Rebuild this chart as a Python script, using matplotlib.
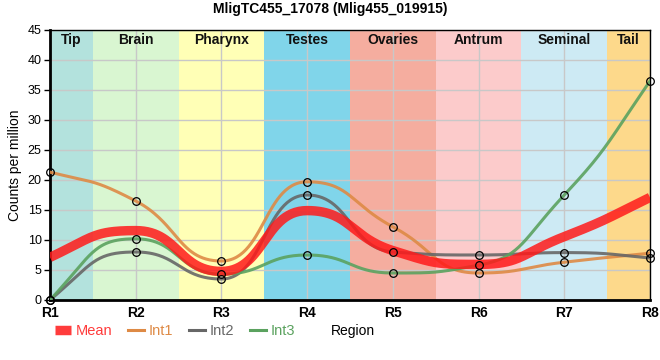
import numpy as np
import matplotlib
matplotlib.use("Agg")
import matplotlib.pyplot as plt
from matplotlib.lines import Line2D

plt.rcParams["font.family"] = ["Liberation Sans", "DejaVu Sans"]

# ── Data ──────────────────────────────────────────────────────────────────────
regions = ["R1", "R2", "R3", "R4", "R5", "R6", "R7", "R8"]
tissues = ["Tip", "Brain", "Pharynx", "Testes", "Ovaries", "Antrum", "Seminal", "Tail"]
tissue_colors = ["#b3e2dd", "#d9f6d1", "#ffffb6", "#80d5ea", "#f5ad9f",
                 "#fccbcb", "#cdeaf4", "#fdd98b"]
int1 = [21.3, 16.5, 6.5, 19.7, 12.2, 4.5, 6.3, 7.8]
int2 = [0.0, 8.0, 3.5, 17.5, 8.0, 7.5, 7.9, 7.0]
int3 = [0.0, 10.2, 4.3, 7.5, 4.5, 5.8, 17.5, 36.5]
mean = np.mean([int1, int2, int3], axis=0)


def smooth(x, y, n=60):
    # monotone tangents, bezier handles at half the interval
    x = np.asarray(x, float)
    y = np.asarray(y, float)
    h = np.diff(x)
    s = np.diff(y) / h
    t = np.zeros_like(y)
    for i in range(1, len(y) - 1):
        p = (s[i - 1] * h[i] + s[i] * h[i - 1]) / (h[i - 1] + h[i])
        t[i] = (np.sign(s[i - 1]) + np.sign(s[i])) * min(abs(s[i - 1]), abs(s[i]), 0.5 * abs(p))
    t[0] = (3 * s[0] - t[1]) / 2
    t[-1] = (3 * s[-1] - t[-2]) / 2
    xs, ys = [], []
    u = np.linspace(0, 1, n)
    b0, b1, b2, b3 = (1 - u)**3, 3 * (1 - u)**2 * u, 3 * (1 - u) * u**2, u**3
    for i in range(len(x) - 1):
        d = 0.5 * h[i]
        px = [x[i], x[i] + d, x[i + 1] - d, x[i + 1]]
        py = [y[i], y[i] + d * t[i], y[i + 1] - d * t[i + 1], y[i + 1]]
        xs.append(b0 * px[0] + b1 * px[1] + b2 * px[2] + b3 * px[3])
        ys.append(b0 * py[0] + b1 * py[1] + b2 * py[2] + b3 * py[3])
    return np.concatenate(xs), np.concatenate(ys)


fig = plt.figure(figsize=(6.6, 3.6), dpi=100)
ax = fig.add_axes([50 / 660, 60 / 360, 600 / 660, 270 / 360])

xpos = np.arange(len(regions))

# ── Tissue bands ──────────────────────────────────────────────────────────────
for i, (name, col) in enumerate(zip(tissues, tissue_colors)):
    lo = max(i - 0.5, 0)
    hi = min(i + 0.5, len(regions) - 1)
    ax.axvspan(lo, hi, color=col, zorder=0, lw=0)
    ax.text((lo + hi) / 2, 43.3, name, ha="center", va="center",
            fontsize=10, fontweight="bold", color="#111111", zorder=5)

ax.grid(True, color="#c8c8c8", linewidth=1)
for gl in ax.get_xgridlines() + ax.get_ygridlines():
    gl.set_zorder(1)

# ── Lines ─────────────────────────────────────────────────────────────────────
series = [(int1, "#de8a45"), (int2, "#676767"), (int3, "#5ba25f")]
for vals, col in series:
    xs, ys = smooth(xpos, vals)
    ax.plot(xs, ys, color=col, linewidth=2.2, alpha=0.9, zorder=3)

xm, ym = smooth(xpos, mean)
ax.plot(xm, ym, color="#ff1a1a", linewidth=6.8, alpha=0.85, zorder=4,
        solid_capstyle="butt")

for vals, col in series:
    ax.plot(xpos, vals, linestyle="none", marker="o", markersize=5.5,
            markerfacecolor="none", markeredgecolor="black",
            markeredgewidth=0.9, zorder=6, clip_on=False)

ax.set_xlim(0, len(regions) - 1)
ax.set_ylim(0, 45)
ax.set_xticks(xpos)
ax.set_xticklabels(regions, fontsize=10, fontweight="bold")
ax.set_yticks(np.arange(0, 46, 5))
ax.tick_params(axis="y", labelsize=9, length=4, width=1, pad=2)
ax.tick_params(axis="x", length=0, pad=4)
for side in ["left", "bottom"]:
    ax.spines[side].set_linewidth(2)
for side in ["top", "right"]:
    ax.spines[side].set_linewidth(1)

ax.set_ylabel("Counts per million", fontsize=10, labelpad=4)
fig.suptitle("MligTC455_17078 (Mlig455_019915)", fontsize=10,
             fontweight="bold", y=0.995)

# ── Legend ────────────────────────────────────────────────────────────────────
handles = [Line2D([], [], color="#ff1a1a", lw=6.8, alpha=0.85, solid_capstyle="butt"),
           Line2D([], [], color="#de8a45", lw=2.2),
           Line2D([], [], color="#676767", lw=2.2),
           Line2D([], [], color="#5ba25f", lw=2.2)]
labels = ["Mean", "Int1", "Int2", "Int3"]
leg = fig.legend(handles, labels, loc="center left",
                 bbox_to_anchor=(42 / 660, 1 - 331 / 360),
                 ncol=4, frameon=False, fontsize=10.5, handlelength=1.1,
                 handletextpad=0.3, columnspacing=1.1)
for txt, col in zip(leg.get_texts(), ["#ff3b3b", "#de8a45", "#676767", "#5ba25f"]):
    txt.set_color(col)
fig.text(331 / 660, 1 - 331 / 360, "Region", fontsize=10, va="center", ha="left")

fig.savefig("out.png", dpi=100)
